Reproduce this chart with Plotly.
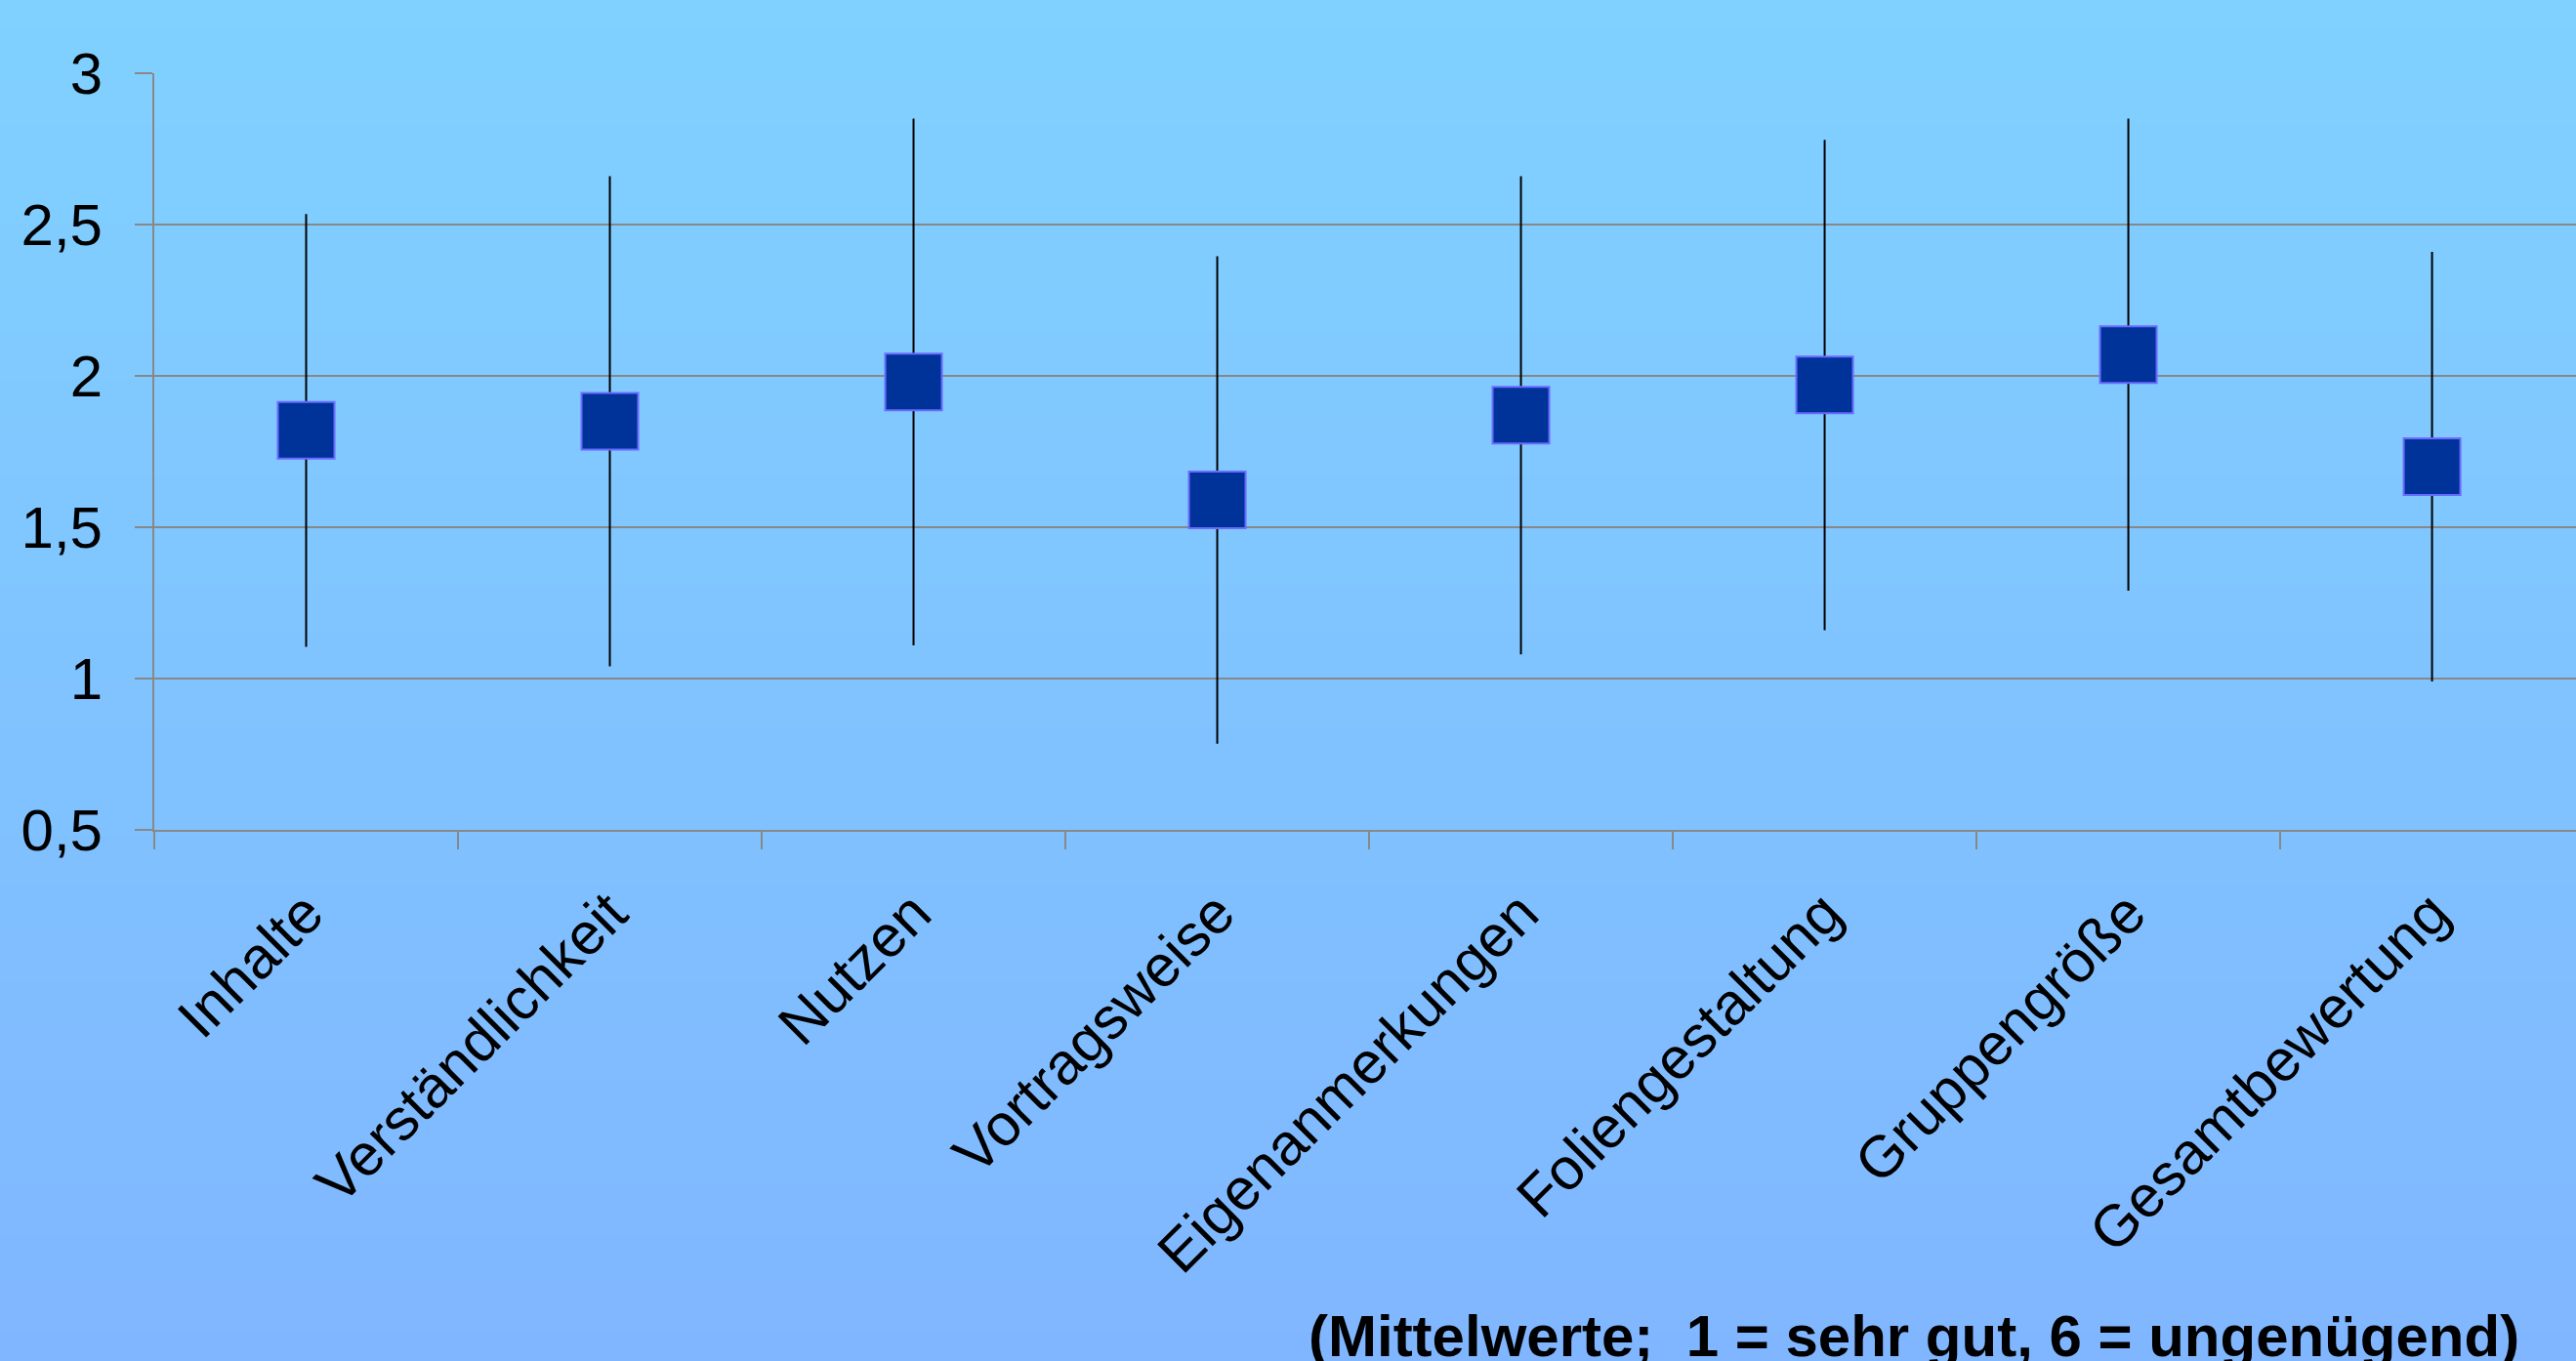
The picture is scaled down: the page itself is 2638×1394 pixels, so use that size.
import plotly.graph_objects as go

categories = ["Inhalte", "Verständlichkeit", "Nutzen", "Vortragsweise",
              "Eigenanmerkungen", "Foliengestaltung", "Gruppengröße", "Gesamtbewertung"]
means = [1.82, 1.85, 1.98, 1.59, 1.87, 1.97, 2.07, 1.70]
std_dev = [0.715, 0.81, 0.87, 0.805, 0.79, 0.81, 0.78, 0.71]
y_ticks = [0.5, 1, 1.5, 2, 2.5, 3]
y_ticklabels = ["0,5", "1", "1,5", "2", "2,5", "3"]
note_text = "(Mittelwerte;  1 = sehr gut, 6 = ungenügend)"

W, H = 2638, 1394
L, T, B = 158, 75, 544
plot_h = H - T - B
plot_w = W - L

fig = go.Figure()
fig.add_trace(go.Scatter(
    x=categories, y=means, mode="markers",
    marker=dict(symbol="square", size=58, color="#003399",
                line=dict(color="#6a6aff", width=2)),
    error_y=dict(type="data", array=std_dev, visible=True,
                 color="black", thickness=2, width=0),
    showlegend=False, hoverinfo="skip",
))

# vertical background gradient
shapes = []
n = 140
top_c = (128, 209, 255)
bot_c = (128, 182, 255)
for i in range(n):
    p0 = H * i / n
    p1 = H * (i + 1) / n + 1
    f = (i + 0.5) / n
    c = tuple(round(top_c[k] + (bot_c[k] - top_c[k]) * f) for k in range(3))
    shapes.append(dict(type="rect", xref="paper", yref="paper", layer="below",
                       x0=-L / plot_w - 0.01, x1=1.01,
                       y0=(H - B - p1) / plot_h, y1=(H - B - p0) / plot_h,
                       line=dict(width=0), fillcolor="rgb(%d,%d,%d)" % c))

fig.update_layout(
    width=W, height=H, autosize=False,
    margin=dict(l=L, r=0, t=T, b=B, pad=0),
    paper_bgcolor="rgb(128,196,255)", plot_bgcolor="rgba(0,0,0,0)",
    font=dict(family="Liberation Sans, Arial, sans-serif", size=60, color="black"),
    shapes=shapes,
    xaxis=dict(type="category", range=[-0.5, 7.474], tickson="boundaries",
               ticks="outside", ticklen=18, tickwidth=2, tickcolor="#888888",
               showline=True, linecolor="#888888", linewidth=2,
               showgrid=False, tickangle=-45, ticklabelstandoff=24,
               tickfont=dict(size=60, color="black")),
    yaxis=dict(range=[0.5, 3], tickvals=y_ticks, ticktext=y_ticklabels,
               ticks="outside", ticklen=18, tickwidth=2, tickcolor="#888888",
               showline=True, linecolor="#888888", linewidth=2,
               showgrid=True, gridcolor="#888888", gridwidth=2,
               zeroline=False, ticklabelstandoff=21,
               tickfont=dict(size=60, color="black")),
    annotations=[dict(text="<b>" + note_text + "</b>", xref="paper", yref="paper",
                      x=(2582 - L) / plot_w, y=-(1368 - (H - B)) / plot_h,
                      xanchor="right", yanchor="middle", showarrow=False,
                      font=dict(size=60, color="black"))],
)

fig.write_html("out.html",
               config={"displayModeBar": False},
               post_script="document.body.style.margin='0';"
                           "document.body.style.overflow='hidden';")
